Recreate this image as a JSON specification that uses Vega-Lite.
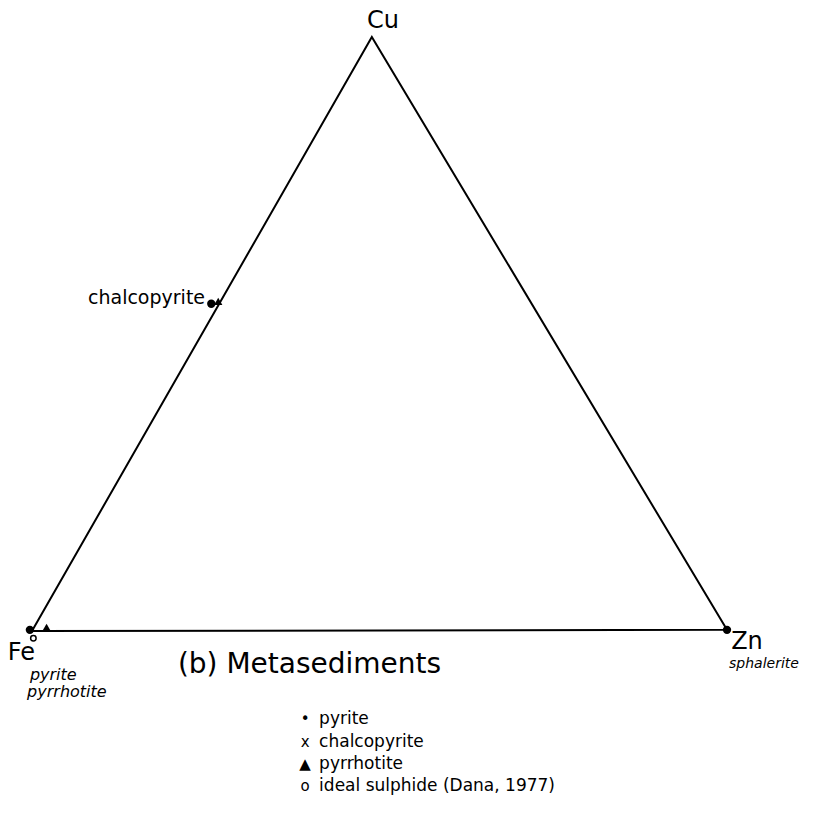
{
  "$schema": "https://vega.github.io/schema/vega-lite/v6.json",
  "width": 814,
  "height": 816,
  "padding": 0,
  "autosize": {"type": "none"},
  "background": "white",
  "config": {"view": {"stroke": null}, "text": {"font": "DejaVu Sans", "color": "black"}},
  "datasets": {
    "frame": [
      {"corner": "Fe", "i": 0, "x": 0, "y": 0},
      {"corner": "Zn", "i": 1, "x": 1, "y": 0.002},
      {"corner": "Cu", "i": 2, "x": 0.489, "y": 1},
      {"corner": "Fe", "i": 3, "x": 0, "y": 0}
    ],
    "analyses": [
      {"mineral": "pyrite", "x": -0.003, "y": 0.002},
      {"mineral": "pyrrhotite", "x": 0.021, "y": 0.006},
      {"mineral": "chalcopyrite", "x": 0.258, "y": 0.551},
      {"mineral": "pyrrhotite", "x": 0.268, "y": 0.555},
      {"mineral": "sphalerite", "x": 1.0, "y": 0.002}
    ],
    "ideal": [
      {"mineral": "ideal sulphide", "x": 0.002, "y": -0.012}
    ],
    "corners": [
      {"label": "Cu", "x": 0.482, "y": 1.027},
      {"label": "Fe", "x": -0.035, "y": -0.037},
      {"label": "Zn", "x": 1.006, "y": -0.0185}
    ],
    "minerals": [
      {"label": "pyrite", "x": -0.003, "y": -0.074},
      {"label": "pyrrhotite", "x": -0.007, "y": -0.103}
    ],
    "znMineral": [
      {"label": "sphalerite", "x": 1.003, "y": -0.0556}
    ],
    "edgeLabel": [
      {"label": "chalcopyrite", "x": 0.249, "y": 0.561}
    ],
    "title": [
      {"label": "(b)  Metasediments", "x": 0.21, "y": -0.057}
    ],
    "key": [
      {"symbol": "•", "label": "pyrite", "x": 0.393, "y": -0.148},
      {"symbol": "x", "label": "chalcopyrite", "x": 0.393, "y": -0.187},
      {"symbol": "▲", "label": "pyrrhotite", "x": 0.393, "y": -0.224},
      {"symbol": "o", "label": "ideal sulphide (Dana, 1977)", "x": 0.393, "y": -0.261}
    ]
  },
  "encoding": {
    "x": {"field": "x", "type": "quantitative", "scale": {"domain": [-0.046, 1.1252], "nice": false, "zero": false}, "axis": null},
    "y": {"field": "y", "type": "quantitative", "scale": {"domain": [-0.3114, 1.0623], "nice": false, "zero": false}, "axis": null}
  },
  "layer": [
    {
      "data": {"name": "frame"},
      "mark": {"type": "line", "color": "black", "strokeWidth": 2},
      "encoding": {"order": {"field": "i", "type": "quantitative"}}
    },
    {
      "data": {"name": "analyses"},
      "mark": {"type": "point", "filled": true, "color": "black", "opacity": 1},
      "encoding": {
        "shape": {"field": "mineral", "type": "nominal", "legend": null,
          "scale": {"domain": ["pyrite", "chalcopyrite", "pyrrhotite", "sphalerite"], "range": ["circle", "circle", "triangle-up", "circle"]}},
        "size": {"field": "mineral", "type": "nominal", "legend": null,
          "scale": {"domain": ["pyrite", "chalcopyrite", "pyrrhotite", "sphalerite"], "range": [70, 70, 45, 45]}}
      }
    },
    {
      "data": {"name": "ideal"},
      "mark": {"type": "point", "shape": "circle", "filled": false, "color": "black", "strokeWidth": 1.5, "size": 30, "opacity": 1}
    },
    {
      "data": {"name": "corners"},
      "mark": {"type": "text", "fontSize": 24, "align": "left", "baseline": "middle"},
      "encoding": {"text": {"field": "label"}}
    },
    {
      "data": {"name": "minerals"},
      "mark": {"type": "text", "fontSize": 16, "fontStyle": "italic", "align": "left", "baseline": "middle"},
      "encoding": {"text": {"field": "label"}}
    },
    {
      "data": {"name": "znMineral"},
      "mark": {"type": "text", "fontSize": 14, "fontStyle": "italic", "align": "left", "baseline": "middle"},
      "encoding": {"text": {"field": "label"}}
    },
    {
      "data": {"name": "edgeLabel"},
      "mark": {"type": "text", "fontSize": 19, "align": "right", "baseline": "middle"},
      "encoding": {"text": {"field": "label"}}
    },
    {
      "data": {"name": "title"},
      "mark": {"type": "text", "fontSize": 28, "align": "left", "baseline": "middle"},
      "encoding": {"text": {"field": "label"}}
    },
    {
      "data": {"name": "key"},
      "mark": {"type": "text", "fontSize": 15, "align": "center", "baseline": "middle"},
      "encoding": {"text": {"field": "symbol"}}
    },
    {
      "data": {"name": "key"},
      "mark": {"type": "text", "fontSize": 17, "align": "left", "baseline": "middle", "dx": 14},
      "encoding": {"text": {"field": "label"}}
    }
  ]
}
